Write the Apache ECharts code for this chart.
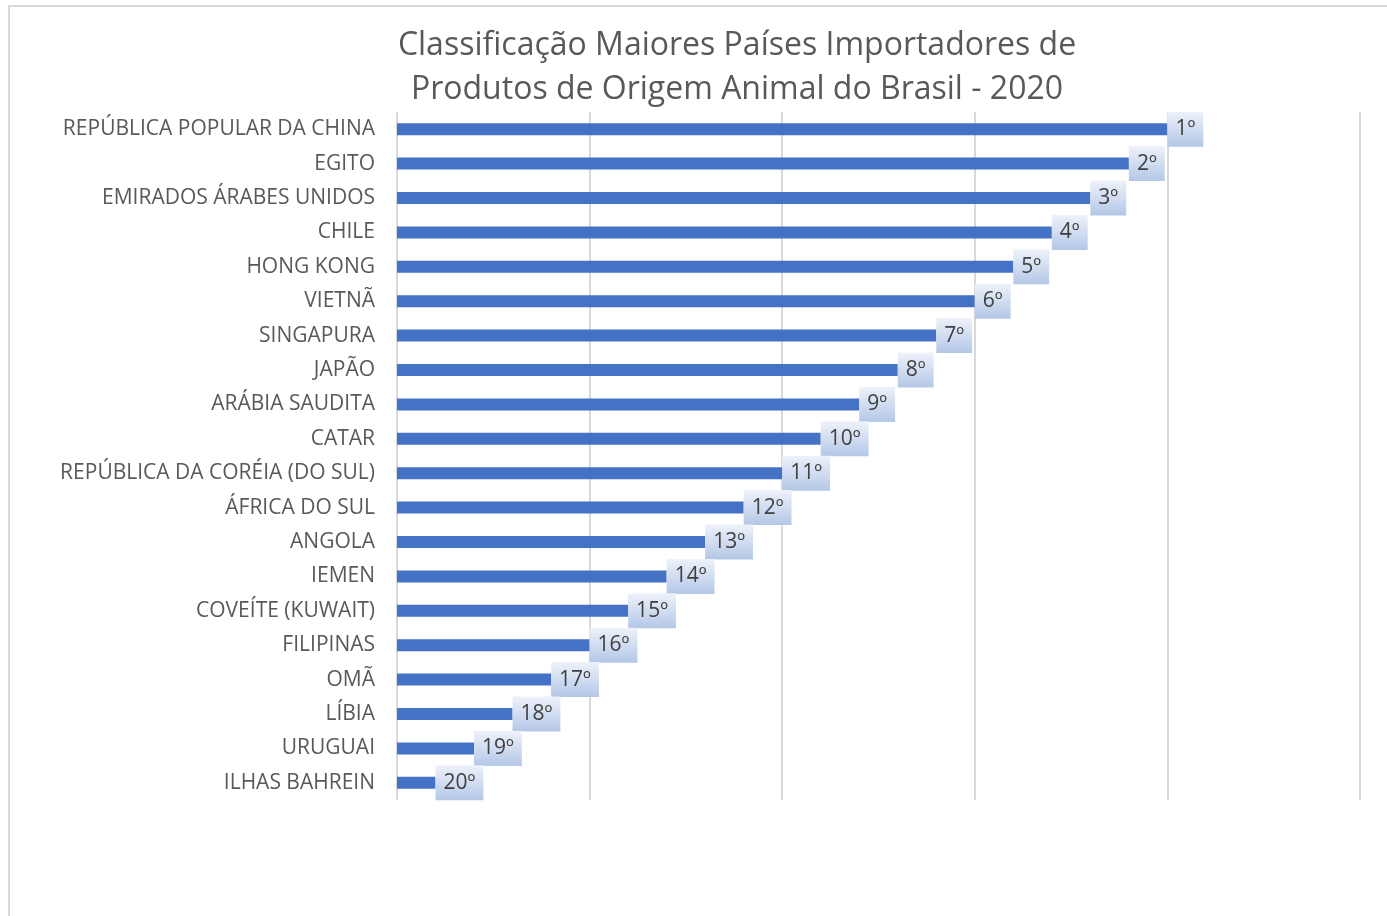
<!DOCTYPE html>
<html lang="pt">
<head>
    <meta charset="UTF-8">
    <title>Classificação Maiores Países Importadores</title>
    <script src="https://cdn.jsdelivr.net/npm/echarts@6/dist/echarts.min.js"></script>
    <style>
        body {
            margin: 0;
            padding: 0;
            background: #ffffff;
            overflow: hidden;
        }
        .frame {
            position: absolute;
            left: 8px;
            top: 5px;
            width: 1400px;
            height: 940px;
            border: 2px solid #d9d9d9;
        }
        #chart {
            position: absolute;
            left: 0;
            top: 0;
            width: 1387px;
            height: 916px;
        }
    </style>
</head>
<body>
<div class="frame"></div>
<div id="chart"></div>
<script>
    // países, do 1º ao 20º
    const paises = [
        'REPÚBLICA POPULAR DA CHINA', 'EGITO', 'EMIRADOS ÁRABES UNIDOS', 'CHILE',
        'HONG KONG', 'VIETNÃ', 'SINGAPURA', 'JAPÃO', 'ARÁBIA SAUDITA', 'CATAR',
        'REPÚBLICA DA CORÉIA (DO SUL)', 'ÁFRICA DO SUL', 'ANGOLA', 'IEMEN',
        'COVEÍTE (KUWAIT)', 'FILIPINAS', 'OMÃ', 'LÍBIA', 'URUGUAI', 'ILHAS BAHREIN'
    ];
    // comprimento da barra (pontos de classificação)
    const pontos = [20, 19, 18, 17, 16, 15, 14, 13, 12, 11, 10, 9, 8, 7, 6, 5, 4, 3, 2, 1];
    const posicoes = ['1º', '2º', '3º', '4º', '5º', '6º', '7º', '8º', '9º', '10º',
        '11º', '12º', '13º', '14º', '15º', '16º', '17º', '18º', '19º', '20º'];

    const chart = echarts.init(document.getElementById('chart'));
    const fonte = '"Open Sans", sans-serif';

    chart.setOption({
        animation: false,
        title: {
            text: 'Classificação Maiores Países Importadores de\nProdutos de Origem Animal do Brasil - 2020',
            left: 732,
            textAlign: 'center',
            top: 19,
            textStyle: {
                color: '#595959',
                fontSize: 32,
                fontWeight: 'normal',
                fontFamily: fonte,
                lineHeight: 44
            }
        },
        grid: { left: 397, top: 112, width: 963, height: 688, containLabel: false },
        xAxis: {
            type: 'value',
            min: 0,
            max: 25,
            interval: 5,
            axisLabel: { show: false },
            axisLine: { show: false },
            axisTick: { show: false },
            splitLine: { show: true, lineStyle: { color: '#d9d9d9', width: 2 } }
        },
        yAxis: {
            type: 'category',
            inverse: true,
            data: paises,
            axisLine: { show: false },
            axisTick: { show: false },
            axisLabel: {
                color: '#595959',
                fontSize: 21,
                fontFamily: fonte,
                margin: 22
            }
        },
        series: [{
            type: 'bar',
            data: pontos,
            barWidth: 12,
            itemStyle: { color: '#4472c4' },
            label: {
                show: true,
                position: 'right',
                distance: 0,
                formatter: p => posicoes[p.dataIndex],
                color: '#404040',
                fontSize: 21,
                fontFamily: fonte,
                padding: [8, 8, 6, 8],
                backgroundColor: new echarts.graphic.LinearGradient(0, 0, 0, 1, [
                    { offset: 0, color: '#eef2fa' },
                    { offset: 1, color: '#b4c7e7' }
                ])
            }
        }]
    });
</script>
</body>
</html>
